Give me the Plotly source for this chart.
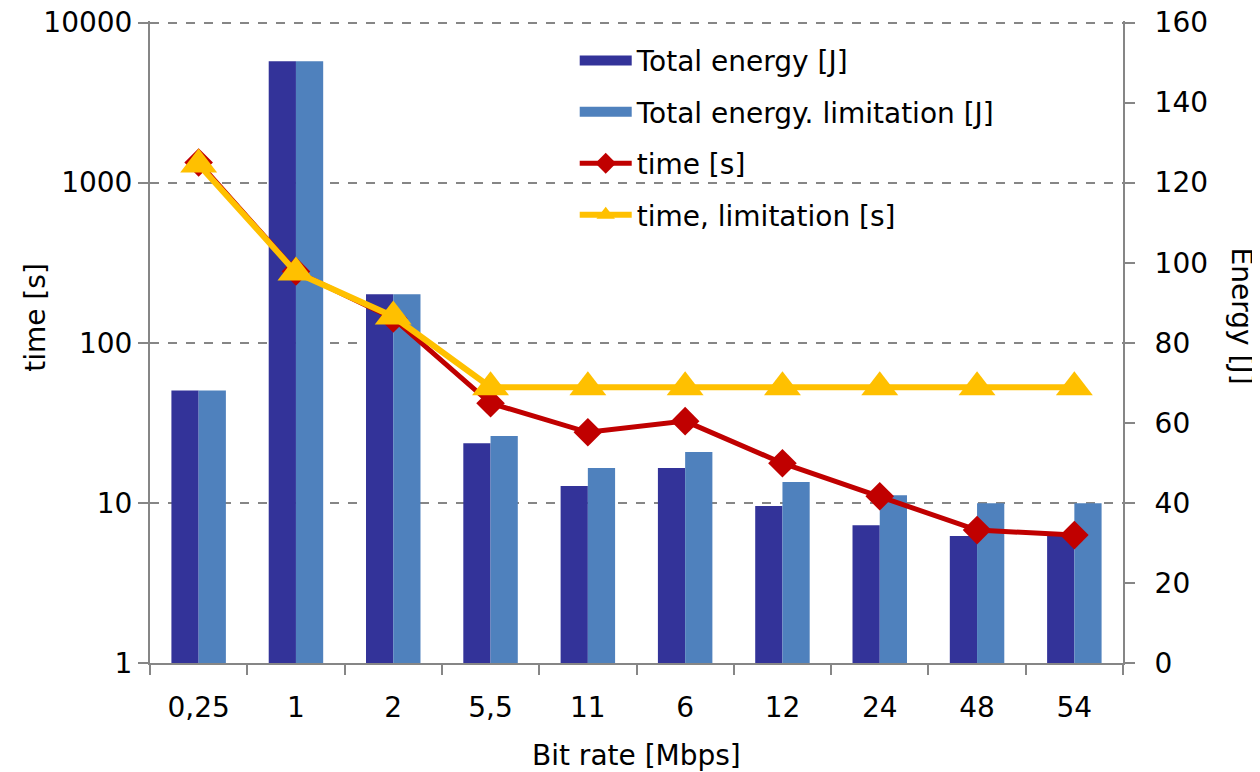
import plotly.graph_objects as go

categories = ["0,25", "1", "2", "5,5", "11", "6", "12", "24", "48", "54"]
energy = [68.1, 150.3, 92.1, 54.9, 44.2, 48.7, 39.2, 34.4, 31.7, 31.7]
energy_lim = [68.1, 150.3, 92.1, 56.7, 48.7, 52.7, 45.2, 41.9, 39.9, 39.9]
time_s = [1337, 279, 142, 41.9, 27.6, 32.4, 17.7, 11.0, 6.76, 6.29]
time_lim = [1300, 275, 146, 52.8, 52.8, 52.8, 52.8, 52.8, 52.8, 52.8]
left_ticks = [1, 10, 100, 1000, 10000]
right_ticks = [0, 20, 40, 60, 80, 100, 120, 140, 160]

FONT = "DejaVu Sans"
FS = 28
AX = "#868686"
C_DARK = "#333399"
C_LIGHT = "#4F81BD"
EXT = 1.0024  # tiny headroom so the top gridline is drawn

fig = go.Figure()
fig.add_trace(go.Bar(x=categories, y=energy, name="Total energy [J]",
                     marker=dict(color=C_DARK, line=dict(width=0)),
                     yaxis="y", legendgroup="a", showlegend=False))
fig.add_trace(go.Bar(x=categories, y=energy_lim, name="Total energy. limitation [J]",
                     marker=dict(color=C_LIGHT, line=dict(width=0)),
                     yaxis="y", legendgroup="b", showlegend=False))
# legend swatches for the bar series (wide rectangles like the original)
fig.add_trace(go.Scatter(x=[None], y=[None], name="Total energy [J]", mode="lines",
                         line=dict(color=C_DARK, width=17), yaxis="y", legendgroup="a"))
fig.add_trace(go.Scatter(x=[None], y=[None], name="Total energy. limitation [J]", mode="lines",
                         line=dict(color=C_LIGHT, width=17), yaxis="y", legendgroup="b"))
fig.add_trace(go.Scatter(x=categories, y=time_s, name="time [s]", mode="lines+markers",
                         line=dict(color="#C00000", width=5),
                         marker=dict(symbol="diamond", size=22, color="#C00000"),
                         yaxis="y2", legendgroup="c"))
fig.add_trace(go.Scatter(x=categories, y=time_lim, name="time, limitation [s]", mode="lines+markers",
                         line=dict(color="#FFC000", width=6),
                         marker=dict(symbol="triangle-up", size=32, color="#FFC000"),
                         yaxis="y2", legendgroup="d"))

fig.update_layout(
    width=1252, height=764,
    margin=dict(l=142, r=137, t=13, b=109, autoexpand=False),
    plot_bgcolor="white", paper_bgcolor="white",
    font=dict(family=FONT, size=FS, color="black"),
    barmode="group", bargap=0.44, bargroupgap=0,
    showlegend=True,
    legend=dict(x=0.4365, y=0.977, xanchor="left", yanchor="top",
                bgcolor="rgba(0,0,0,0)", font=dict(size=FS), itemwidth=52,
                tracegroupgap=12, traceorder="grouped"),
    xaxis=dict(type="category", range=[-0.5, 9.5], automargin=False,
               showline=True, linecolor=AX, linewidth=2,
               ticks="outside", tickson="boundaries", ticklen=10, tickcolor=AX, tickwidth=2,
               ticklabelstandoff=18, showgrid=False, tickfont=dict(size=FS)),
    yaxis=dict(side="right", range=[0, 160 * EXT], tickvals=right_ticks,
               showgrid=False, automargin=False, ticklabeloverflow="allow",
               showline=True, linecolor=AX, linewidth=2,
               ticks="outside", ticklen=10, tickcolor=AX, tickwidth=2,
               ticklabelstandoff=14, zeroline=False, tickfont=dict(size=FS)),
    yaxis2=dict(side="left", overlaying="y", type="log", range=[0, 4 * EXT], automargin=False,
                tickvals=left_ticks, ticktext=[str(v) for v in left_ticks],
                ticklabeloverflow="allow",
                showgrid=True, gridcolor=AX, griddash="dash", gridwidth=2,
                showline=True, linecolor=AX, linewidth=2,
                ticks="outside", ticklen=10, tickcolor=AX, tickwidth=2,
                zeroline=False, tickfont=dict(size=FS)),
    annotations=[
        dict(text="time [s]", xref="paper", yref="paper", x=-0.118, y=0.538,
             textangle=-90, showarrow=False, font=dict(size=FS), xanchor="center", yanchor="middle"),
        dict(text="Energy [J]", xref="paper", yref="paper", x=1.122, y=0.54,
             textangle=90, showarrow=False, font=dict(size=FS), xanchor="center", yanchor="middle"),
        dict(text="Bit rate [Mbps]", xref="paper", yref="paper", x=0.5, y=-0.1435,
             showarrow=False, font=dict(size=FS), xanchor="center", yanchor="middle"),
    ],
)

fig.write_html("out.html")
